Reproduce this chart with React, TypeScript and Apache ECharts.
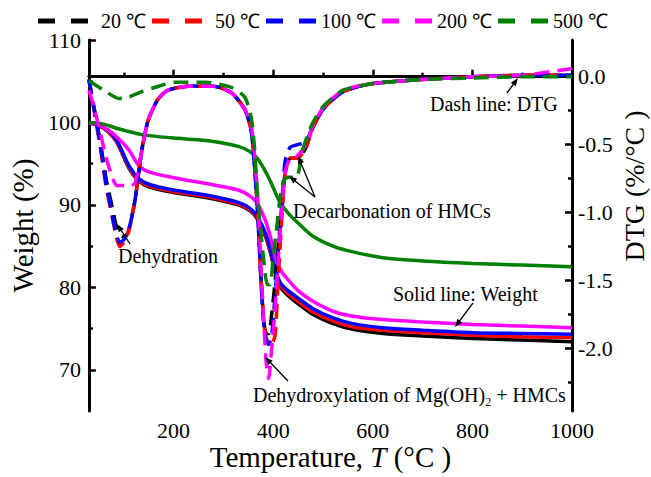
import React, { useEffect, useRef } from "react";
import * as echarts from "echarts";

const FONT = "Liberation Serif";

const legendNames = ["20 ℃", "50 ℃", "100 ℃", "200 ℃", "500 ℃"];
const seriesColors = ["#000000", "#ff0000", "#0000ff", "#ff00ff", "#008000"];

const xMajorTicks = [200, 400, 600, 800, 1000];
const xMinorTicks = [100, 300, 500, 700, 900];
const weightMajorTicks = [70, 80, 90, 100, 110];
const weightMinorTicks = [75, 85, 95, 105];
const dtgMajorTicks = [-2, -1.5, -1, -0.5, 0];
const dtgMinorTicks = [-2.25, -1.75, -1.25, -0.75, -0.25];

// Weight (%) vs temperature
const weightT = [30, 60, 85, 110, 130, 150, 200, 265, 330, 355, 370, 385, 395, 405, 415, 430, 450, 480, 520, 560, 620, 700, 800, 900, 1000];
const weight20 = [100, 99.3, 97.7, 94.5, 92.9, 92.2, 91.5, 90.9, 90.0, 89.2, 88.1, 86.1, 84.1, 81.6, 80.0, 79.0, 78.0, 76.7, 75.6, 74.9, 74.4, 74.1, 73.8, 73.6, 73.4];
const weight50 = [100, 99.3, 97.7, 94.6, 93.0, 92.3, 91.6, 91.0, 90.1, 89.3, 88.2, 86.2, 84.2, 81.7, 80.2, 79.2, 78.3, 77.0, 75.9, 75.2, 74.8, 74.5, 74.2, 74.0, 73.9];
const weight100 = [100, 99.4, 97.9, 94.8, 93.2, 92.5, 91.8, 91.2, 90.3, 89.5, 88.4, 86.5, 84.5, 82.0, 80.5, 79.6, 78.7, 77.4, 76.3, 75.6, 75.1, 74.8, 74.5, 74.4, 74.3];
const weight200 = [100, 99.4, 98.3, 96.7, 94.8, 94.0, 93.3, 92.6, 91.8, 91.0, 90.0, 88.0, 86.0, 83.4, 82.1, 80.9, 79.6, 78.3, 77.1, 76.5, 76.1, 75.8, 75.5, 75.3, 75.1];
const weight500 = [100, 99.8, 99.3, 98.9, 98.6, 98.4, 98.1, 97.8, 97.1, 96.4, 95.5, 94.0, 92.8, 91.4, 90.2, 89.0, 87.8, 86.2, 85.0, 84.3, 83.6, 83.2, 82.9, 82.7, 82.5];

// DTG (%/°C) vs temperature
const dtgT = [30, 40, 52, 65, 75, 85, 92, 100, 108, 115, 123, 136, 149, 168, 188, 230, 280, 317, 343, 356, 362, 369, 375, 381, 386, 391, 397, 404, 410, 418, 424, 434, 449, 466, 478, 500, 540, 600, 700, 800, 900, 1000];
const dtg20 = [-0.02, -0.22, -0.46, -0.76, -0.93, -1.1, -1.16, -1.18, -1.15, -1.05, -0.9, -0.54, -0.32, -0.17, -0.1, -0.07, -0.07, -0.12, -0.24, -0.39, -0.62, -1.0, -1.45, -1.8, -1.89, -1.89, -1.75, -1.5, -1.25, -0.95, -0.71, -0.6, -0.6, -0.52, -0.39, -0.24, -0.11, -0.05, -0.02, 0, 0.01, 0.01];
const dtg50 = [-0.02, -0.24, -0.5, -0.82, -1.0, -1.18, -1.25, -1.22, -1.16, -1.06, -0.9, -0.55, -0.32, -0.17, -0.1, -0.07, -0.07, -0.12, -0.24, -0.4, -0.63, -1.0, -1.45, -1.8, -1.92, -1.96, -1.97, -1.9, -1.5, -1.0, -0.72, -0.6, -0.6, -0.52, -0.39, -0.24, -0.11, -0.05, -0.02, 0, 0.01, 0.01];
const dtg100 = [-0.02, -0.23, -0.48, -0.8, -0.98, -1.16, -1.22, -1.2, -1.15, -1.05, -0.9, -0.55, -0.32, -0.17, -0.1, -0.07, -0.07, -0.12, -0.24, -0.4, -0.64, -1.02, -1.47, -1.82, -1.95, -1.97, -1.9, -1.6, -1.3, -0.9, -0.62, -0.52, -0.5, -0.48, -0.38, -0.24, -0.11, -0.05, -0.02, 0, 0.01, 0.01];
const dtg200 = [-0.1, -0.22, -0.4, -0.6, -0.72, -0.8, -0.8, -0.8, -0.8, -0.8, -0.78, -0.55, -0.32, -0.17, -0.1, -0.07, -0.07, -0.12, -0.24, -0.36, -0.55, -0.9, -1.35, -1.8, -2.1, -2.22, -2.0, -1.7, -1.35, -0.95, -0.7, -0.6, -0.58, -0.5, -0.38, -0.23, -0.1, -0.05, -0.02, 0, 0.01, 0.06];
const dtgT500 = [30, 60, 90, 110, 136, 170, 201, 265, 317, 343, 356, 362, 369, 375, 381, 388, 394, 400, 408, 414, 422, 430, 447, 459, 478, 500, 540, 600, 700, 800, 900, 1000];
const dtg500 = [-0.03, -0.1, -0.16, -0.15, -0.11, -0.07, -0.04, -0.04, -0.08, -0.15, -0.3, -0.5, -0.89, -1.13, -1.35, -1.53, -1.53, -1.33, -1.08, -0.89, -0.76, -0.74, -0.74, -0.54, -0.35, -0.22, -0.1, -0.05, -0.02, -0.01, 0, 0];

const zip = (xs: number[], ys: number[]) => xs.map((x, i) => [x, ys[i]]);

function arrow(x1: number, y1: number, x2: number, y2: number, head = 8) {
  const a = Math.atan2(y2 - y1, x2 - x1);
  const c = Math.cos(a);
  const s = Math.sin(a);
  const bx = x2 - head * c;
  const by = y2 - head * s;
  const w = head * 0.38;
  return [
    { type: "line", shape: { x1, y1, x2: bx + 1 * c, y2: by + 1 * s }, style: { stroke: "#000", lineWidth: 1.3 }, z: 100 },
    { type: "polygon", shape: { points: [[x2, y2], [bx + w * s, by - w * c], [bx - w * s, by + w * c]] }, style: { fill: "#000" }, z: 100 },
  ];
}

function label(text: string, x: number, y: number) {
  return {
    type: "text",
    z: 100,
    style: { text, x, y, fontFamily: FONT, fontSize: 20, fill: "#000", verticalAlign: "middle", align: "left" },
  };
}

const axisLineStyle = { color: "#000", width: 3 };

export default function App() {
  const ref = useRef<HTMLDivElement>(null);
  useEffect(() => {
    const chart = echarts.init(ref.current!, null, { renderer: "svg" });
    const weights = [weight20, weight50, weight100, weight200, weight500];
    const dtgs = [zip(dtgT, dtg20), zip(dtgT, dtg50), zip(dtgT, dtg100), zip(dtgT, dtg200), zip(dtgT500, dtg500)];
    const solid = legendNames.map((n, i) => ({
      name: n,
      type: "line",
      xAxisIndex: 0,
      yAxisIndex: 0,
      symbol: "none",
      smooth: 0.3,
      data: zip(weightT, weights[i]),
      lineStyle: { color: seriesColors[i], width: 3.5 },
      itemStyle: { color: seriesColors[i] },
      z: 2,
    }));
    const dashed = legendNames.map((n, i) => ({
      name: n,
      type: "line",
      xAxisIndex: 0,
      yAxisIndex: 1,
      symbol: "none",
      smooth: 0.2,
      data: dtgs[i],
      lineStyle: { color: seriesColors[i], width: 3.5, type: [15, 8] },
      itemStyle: { color: seriesColors[i] },
      z: 3 + i,
    }));

    const tickLabel = { fontFamily: FONT, fontSize: 22, color: "#000" };

    const option: any = {
      animation: false,
      backgroundColor: "#fff",
      textStyle: { fontFamily: FONT },
      grid: { left: 72, right: 79, top: 40, bottom: 66, containLabel: false },
      legend: {
        top: 6,
        left: 33,
        itemWidth: 50,
        itemHeight: 6,
        itemGap: 6,
        icon: "path://M0,0H17V5H0Z M33,0H50V5H33Z",
        textStyle: { fontFamily: FONT, fontSize: 20, color: "#000" },
        data: legendNames.map((n, i) => (i < 2 ? { name: n, textStyle: { padding: [0, 0, 0, 8] } } : { name: n })),
      },
      xAxis: [
        {
          type: "value",
          min: 30,
          max: 1000,
          position: "bottom",
          axisLine: { show: true, lineStyle: axisLineStyle },
          axisTick: { show: true, inside: true, length: 7, lineStyle: { color: "#000", width: 2.5 }, customValues: xMajorTicks },
          axisLabel: { ...tickLabel, margin: 8, customValues: xMajorTicks, formatter: (v: number) => String(v) },
          splitLine: { show: false },
          name: "Temperature, {i|T} (°C )",
          nameLocation: "middle",
          nameGap: 31,
          nameMoveOverlap: false,
          nameTextStyle: {
            fontFamily: FONT,
            fontSize: 29,
            color: "#000",
            rich: { i: { fontFamily: FONT, fontSize: 29, fontStyle: "italic", color: "#000" } },
          },
        },
        {
          type: "value",
          min: 30,
          max: 1000,
          position: "bottom",
          axisLine: { show: false },
          axisTick: { show: true, inside: true, length: 4, lineStyle: { color: "#000", width: 2.5 }, customValues: xMinorTicks },
          axisLabel: { show: false },
          splitLine: { show: false },
        },
      ],
      yAxis: [
        {
          type: "value",
          min: 65,
          max: 110,
          position: "left",
          axisLine: { show: true, lineStyle: axisLineStyle },
          axisTick: { show: true, inside: true, length: 7, lineStyle: { color: "#000", width: 2.5 }, customValues: weightMajorTicks },
          axisLabel: { ...tickLabel, margin: 8, customValues: weightMajorTicks, formatter: (v: number) => String(v) },
          splitLine: { show: false },
          name: "Weight (%)",
          nameLocation: "middle",
          nameGap: 38,
          nameTextStyle: { fontFamily: FONT, fontSize: 29, color: "#000" },
        },
        {
          type: "value",
          min: -2.46,
          max: 0.27,
          position: "right",
          axisLine: { show: true, lineStyle: axisLineStyle },
          axisTick: { show: true, inside: true, length: 7, lineStyle: { color: "#000", width: 2.5 }, customValues: dtgMajorTicks },
          axisLabel: { ...tickLabel, margin: 6, customValues: dtgMajorTicks, formatter: (v: number) => v.toFixed(1) },
          splitLine: { show: false },
        },
        {
          type: "value",
          min: 65,
          max: 110,
          position: "left",
          axisLine: { show: false },
          axisTick: { show: true, inside: true, length: 4, lineStyle: { color: "#000", width: 2.5 }, customValues: weightMinorTicks },
          axisLabel: { show: false },
          splitLine: { show: false },
        },
        {
          type: "value",
          min: -2.46,
          max: 0.27,
          position: "right",
          axisLine: { show: false },
          axisTick: { show: true, inside: true, length: 4, lineStyle: { color: "#000", width: 2.5 }, customValues: dtgMinorTicks },
          axisLabel: { show: false },
          splitLine: { show: false },
        },
      ],
      series: [...solid, ...dashed],
      graphic: [
        {
          type: "text",
          x: 634,
          y: 186,
          rotation: Math.PI / 2,
          z: 100,
          style: { text: "DTG (%/°C )", fontFamily: FONT, fontSize: 28, fill: "#000", align: "center", verticalAlign: "middle" },
        },
        label("Dehydration", 118, 256),
        ...arrow(130, 244, 117, 224),
        label("Decarbonation of HMCs", 293, 211),
        ...arrow(315, 197, 298, 156),
        ...arrow(315, 197, 289, 176),
        label("Dash line: DTG", 430, 104),
        ...arrow(507, 93, 518, 78),
        label("Solid line: Weight", 393, 294),
        ...arrow(473, 303, 455, 327),
        {
          type: "text",
          z: 100,
          style: {
            text: "{n|Dehydroxylation of Mg(OH)}{s|2}{n| + HMCs}",
            x: 253,
            y: 395,
            verticalAlign: "middle",
            align: "left",
            rich: {
              n: { fontFamily: FONT, fontSize: 20, fill: "#000", lineHeight: 26, verticalAlign: "middle" },
              s: { fontFamily: FONT, fontSize: 12, fill: "#000", lineHeight: 26, verticalAlign: "bottom" },
            },
          },
        },
        ...arrow(288, 381, 265, 357),
      ],
    };
    chart.setOption(option);
    return () => chart.dispose();
  }, []);
  return <div ref={ref} style={{ position: "absolute", left: 0, top: 0, width: 651, height: 477 }} />;
}
